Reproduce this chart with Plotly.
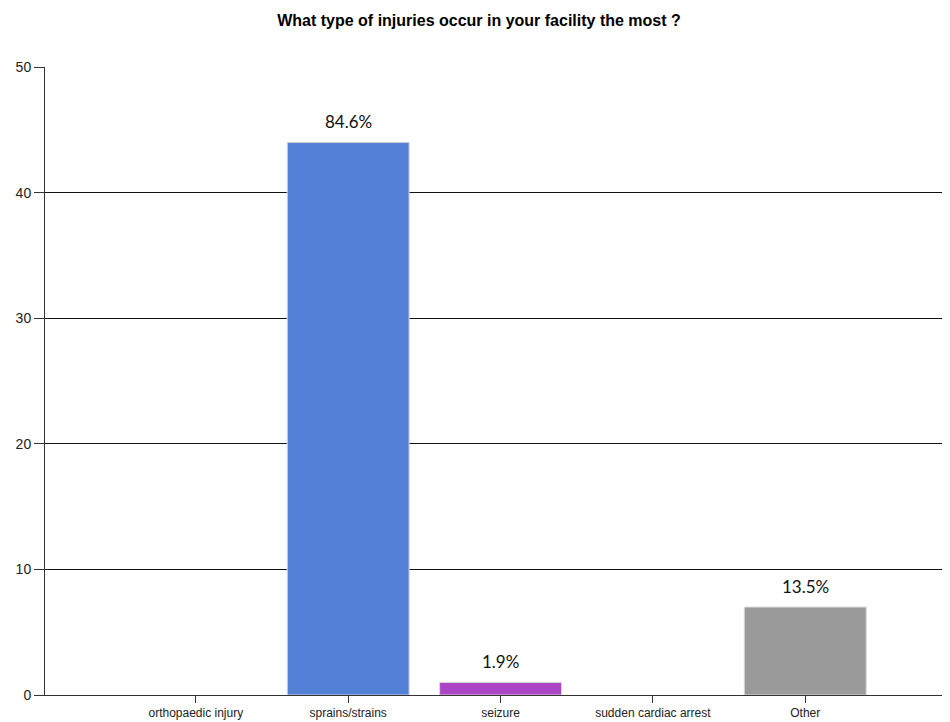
import plotly.graph_objects as go

categories = ["orthopaedic injury", "sprains/strains", "seizure", "sudden cardiac arrest", "Other"]
counts = [0, 44, 1, 0, 7]
percent_labels = ["", "84.6%", "1.9%", "", "13.5%"]
bar_colors = ["#5580D8", "#5580D8", "#AB45C5", "#5580D8", "#9A9A9A"]
y_ticks = [0, 10, 20, 30, 40, 50]

outline = ["#D8D8D8" if v > 0 else "rgba(0,0,0,0)" for v in counts]

fig = go.Figure()
fig.add_trace(go.Bar(
    x=categories, y=counts, width=0.8,
    marker=dict(color=bar_colors, line=dict(color=outline, width=1)),
    hoverinfo="x+y",
))

for c, v, t in zip(categories, counts, percent_labels):
    if t:
        fig.add_annotation(x=c, y=v, text=t, showarrow=False, yanchor="bottom", yshift=8,
                           font=dict(family="Lato, 'Open Sans', sans-serif", size=17, color="#111"))

# page body has an 8px margin, so the figure is sized to fill the rest of the window
fig.update_layout(
    width=942, height=714,
    margin=dict(l=37, r=0, t=59, b=27, autoexpand=False),
    paper_bgcolor="white", plot_bgcolor="white",
    showlegend=False,
    title=dict(text="<b>What type of injuries occur in your facility the most ?</b>",
               x=0.5, xanchor="center", y=0.983, yanchor="middle",
               font=dict(family="Liberation Sans, Arial, sans-serif", size=16, color="#000")),
    xaxis=dict(range=[-0.99, 4.95], showline=True, linecolor="#333", linewidth=1, automargin=False,
               ticks="outside", ticklen=7, tickcolor="#333", showgrid=False,
               tickfont=dict(family="Liberation Sans, Arial, sans-serif", size=12, color="#222")),
    yaxis=dict(range=[0, 50], tickvals=y_ticks, showline=True, linecolor="#333", linewidth=1, automargin=False,
               ticks="outside", ticklen=10, tickcolor="#333", showgrid=True, gridcolor="#111",
               gridwidth=1, zeroline=False,
               tickfont=dict(family="Liberation Sans, Arial, sans-serif", size=14, color="#222")),
    bargap=0.2,
)

fig.write_html("out.html")
